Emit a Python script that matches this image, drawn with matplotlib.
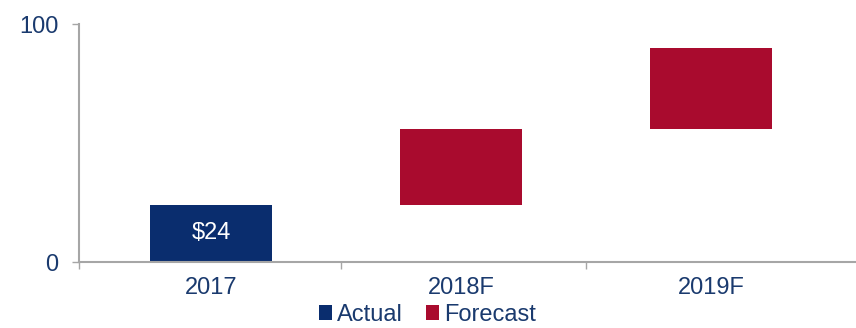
import matplotlib.pyplot as plt
from matplotlib.patches import Patch

years = ["2017", "2018F", "2019F"]
lows = [0, 24, 56]
highs = [24, 56, 90]
kinds = ["Actual", "Forecast", "Forecast"]
bar_labels = ["$24", "", ""]

navy = "#0a2d6e"
crimson = "#a90b2e"
text_col = "#1a3a6e"
axis_col = "#a6a6a6"

plt.rcParams["font.family"] = ["Liberation Sans", "DejaVu Sans"]

fig = plt.figure(figsize=(8.56, 3.28), dpi=100)
ax = fig.add_axes([0.0923, 0.2012, 0.9077, 0.7256])

colors = [navy if k == "Actual" else crimson for k in kinds]
heights = [h - l for h, l in zip(highs, lows)]
bars = ax.bar(range(len(years)), heights, bottom=lows, width=0.49, color=colors)

for b, lab in zip(bars, bar_labels):
    if lab:
        ax.text(b.get_x() + b.get_width() / 2, b.get_y() + b.get_height() / 2, lab,
                ha="center", va="center", color="white", fontsize=17)

x0 = -0.528
ax.set_ylim(0, 100)
ax.set_xlim(x0, 2.58)
ax.set_yticks([0, 100])
ax.tick_params(axis="y", colors=axis_col, labelcolor=text_col, labelsize=17,
               length=5, width=1, pad=10)

# category labels centred, tick marks on category boundaries
ax.set_xticks(range(len(years)))
ax.set_xticklabels(years)
ax.tick_params(axis="x", length=0, labelcolor=text_col, labelsize=17, pad=11)
ax.set_xticks([x0, 0.52, 1.5], minor=True)
ax.tick_params(axis="x", which="minor", length=5, width=1, colors=axis_col)

for s in ["top", "right"]:
    ax.spines[s].set_visible(False)
for s in ["left", "bottom"]:
    ax.spines[s].set_color(axis_col)
    ax.spines[s].set_linewidth(1.5)

handles = [Patch(facecolor=navy, label="Actual"), Patch(facecolor=crimson, label="Forecast")]
fig.legend(handles=handles, loc="center", bbox_to_anchor=(0.499, 0.04), ncol=2,
           frameon=False, fontsize=17, labelcolor=text_col, handlelength=0.55,
           handleheight=0.55, handletextpad=0.2, columnspacing=1.0, borderpad=0)

fig.savefig("out.png", dpi=100)
